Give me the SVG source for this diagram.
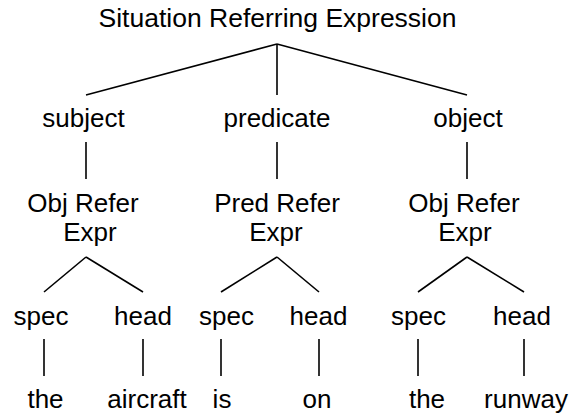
<svg xmlns="http://www.w3.org/2000/svg" width="579" height="416" viewBox="0 0 579 416">
<style>
text{font-family:"Liberation Sans",Arial,sans-serif;font-size:26px;fill:#000;text-anchor:middle}
.c line{stroke:#000;stroke-width:1.6;fill:none}
</style>
<rect width="579" height="416" fill="#fff"/>
<g class="c" id="connectors">
<line x1="277" y1="44" x2="86" y2="95"/>
<line x1="277" y1="44" x2="277" y2="95"/>
<line x1="277" y1="44" x2="467" y2="95"/>
<line x1="86" y1="142" x2="86" y2="179"/>
<line x1="277" y1="142" x2="277" y2="179"/>
<line x1="467" y1="142" x2="467" y2="179"/>
<line x1="86" y1="257" x2="44" y2="292"/>
<line x1="86" y1="257" x2="143" y2="292"/>
<line x1="277" y1="257" x2="221" y2="292"/>
<line x1="277" y1="257" x2="319" y2="292"/>
<line x1="467" y1="257" x2="418" y2="292"/>
<line x1="467" y1="257" x2="524" y2="292"/>
<line x1="44" y1="339" x2="44" y2="376"/>
<line x1="143" y1="339" x2="143" y2="376"/>
<line x1="221" y1="339" x2="221" y2="376"/>
<line x1="319" y1="339" x2="319" y2="376"/>
<line x1="418" y1="339" x2="418" y2="376"/>
<line x1="524" y1="339" x2="524" y2="376"/>
</g>
<g id="root"><text x="277.5" y="27" textLength="358" lengthAdjust="spacingAndGlyphs">Situation Referring Expression</text></g>
<g id="subject"><text x="83.5" y="127">subject</text></g>
<g id="predicate"><text x="277" y="127">predicate</text></g>
<g id="object"><text x="468" y="127">object</text></g>
<g id="objref1"><text x="83" y="212">Obj Refer</text><text x="90" y="241">Expr</text></g>
<g id="predref"><text x="277" y="212">Pred Refer</text><text x="276" y="241">Expr</text></g>
<g id="objref2"><text x="464" y="212">Obj Refer</text><text x="465" y="241">Expr</text></g>
<g id="spec1"><text x="41" y="325">spec</text></g>
<g id="head1"><text x="143" y="325">head</text></g>
<g id="spec2"><text x="226.5" y="325">spec</text></g>
<g id="head2"><text x="318.5" y="325">head</text></g>
<g id="spec3"><text x="418.5" y="325">spec</text></g>
<g id="head3"><text x="522" y="325">head</text></g>
<g id="w-the1"><text x="45.5" y="408">the</text></g>
<g id="w-aircraft"><text x="147" y="408">aircraft</text></g>
<g id="w-is"><text x="222" y="408">is</text></g>
<g id="w-on"><text x="317" y="408">on</text></g>
<g id="w-the2"><text x="427" y="408">the</text></g>
<g id="w-runway"><text x="526" y="408">runway</text></g>
</svg>
